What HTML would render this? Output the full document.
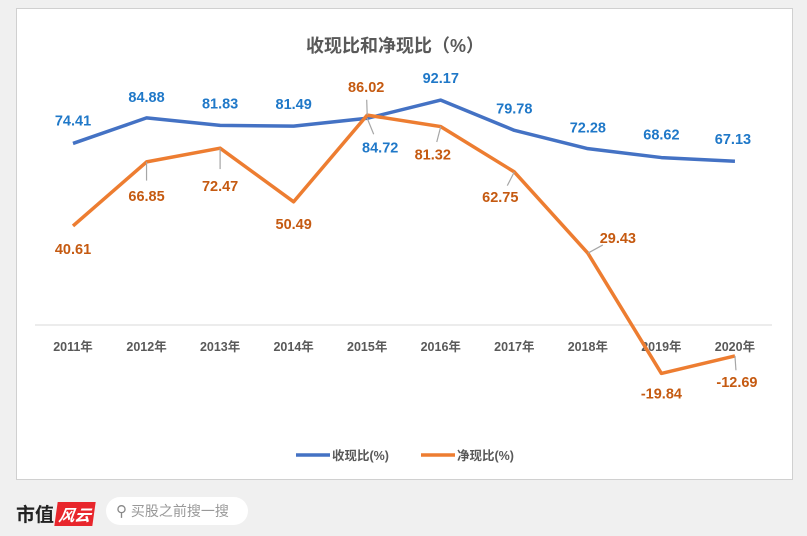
<!DOCTYPE html>
<html><head><meta charset="utf-8">
<style>
html,body{margin:0;padding:0;background:#f0f0f0;}
body{width:807px;height:536px;position:relative;overflow:hidden;font-family:"Liberation Sans","Noto Sans CJK SC",sans-serif;}
#card{position:absolute;left:16px;top:8px;width:775px;height:470px;background:#fff;border:1px solid #d0d0d0;}
#logo{position:absolute;left:16px;top:500px;font-size:19px;font-weight:bold;color:#222;}
#logo span{display:inline-block;background:#e8262c;color:#fff;font-style:italic;font-size:16px;padding:0 3px;transform:skewX(-8deg);margin-left:2px;}
#search{position:absolute;left:106px;top:497px;width:142px;height:28px;background:#fff;border-radius:14px;font-size:14px;color:#999;line-height:28px;}
</style></head><body>
<div id="card"></div>
<svg id="chart" width="807" height="536" style="position:absolute;left:0;top:0"></svg>
<div id="logo">市值<span>风云</span></div>
<div id="search"><span style="margin-left:10px;font-size:15px;color:#888">&#9906;</span> 买股之前搜一搜</div>
<script>
const categories=["2011年","2012年","2013年","2014年","2015年","2016年","2017年","2018年","2019年","2020年"];
const cashRevenue=[74.41,84.88,81.83,81.49,84.72,92.17,79.78,72.28,68.62,67.13];
const netCash=[40.61,66.85,72.47,50.49,86.02,81.32,62.75,29.43,-19.84,-12.69];
const seriesNames=["收现比(%)","净现比(%)"];
const blueLab=[[0,-23],[0,-21],[0,-22],[0,-22],[13,29],[0,-22],[0,-22],[0,-21],[0,-23],[-2,-22]];
const orgLab=[[0,23],[0,34],[0,38],[0,22],[-1,-28],[-8,28],[-14,25],[30,-15],[0,20],[2,26]];
const NS="http://www.w3.org/2000/svg";
const svg=document.getElementById('chart');
const x=i=>73+i*73.55;
const y=v=>325-v*2.44;
function mk(t,a,p){const e=document.createElementNS(NS,t);for(const k in a)e.setAttribute(k,a[k]);(p||svg).appendChild(e);return e;}
let t=mk('text',{x:395,y:52,'text-anchor':'middle','font-size':18,'font-weight':'bold',fill:'#595959'});t.textContent="收现比和净现比（%）";


let ax=mk('line',{x1:35,x2:772,y1:y(0),y2:y(0),stroke:'#d9d9d9','stroke-width':1});


categories.forEach((c,i)=>{const e=mk('text',{x:x(i),y:351,'text-anchor':'middle','font-size':12.5,'font-weight':'bold',fill:'#595959'});e.textContent=c;

});
function series(vals,color,lc,lab,name){
 const p=mk('polyline',{points:vals.map((v,i)=>x(i)+','+y(v)).join(' '),fill:'none',stroke:color,'stroke-width':3.5,'stroke-linejoin':'round'});
 
 
 vals.forEach((v,i)=>{const [dx,dy]=lab[i];const tx=x(i)+dx,ty=y(v)+dy;
  if(Math.abs(dx)>10||Math.abs(dy)>25){mk('line',{x1:x(i),y1:y(v),x2:x(i)+dx*0.5,y2:y(v)+dy*0.55,stroke:'#a6a6a6','stroke-width':1.2});}
  const e=mk('text',{x:tx,y:ty+5,'text-anchor':'middle','font-size':14.5,'font-weight':'bold',fill:lc});e.textContent=v.toFixed(2);
  
  });
}
series(cashRevenue,'#4472c4','#1f78c8',blueLab,'cash-revenue');
series(netCash,'#ed7d31','#c55a11',orgLab,'net-cash');
[[296,'#4472c4',seriesNames[0]],[421,'#ed7d31',seriesNames[1]]].forEach(([lx,c,n],k)=>{
 const g=mk('g',{});
 
 
 mk('line',{x1:lx,x2:lx+34,y1:455,y2:455,stroke:c,'stroke-width':3.5},g);
 const e=mk('text',{x:lx+36,y:460,'font-size':12.5,'font-weight':'bold',fill:'#595959'},g);e.textContent=n;});
</script>
</body></html>
